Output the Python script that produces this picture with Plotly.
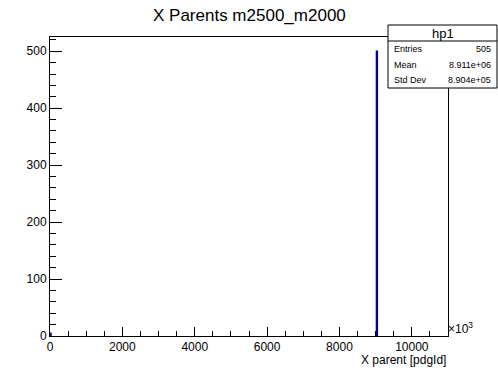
import plotly.graph_objects as go

# Data (x in units of 10^3 pdgId)
bin_lo = [0, 9020]
bin_hi = [30, 9050]
counts = [5, 500]
stats_labels = ["Entries", "Mean", "Std Dev"]
stats_values = ["505", "8.911e+06", "8.904e+05"]
hist_name = "hp1"
title = "X Parents m2500_m2000"
x_title = "X parent [pdgId]"

xs, ys = [], []
for lo, hi, c in zip(bin_lo, bin_hi, counts):
    xs += [lo, lo, hi, hi, None]
    ys += [0, c, c, 0, None]

FONT = "Liberation Sans, Arial, Helvetica, sans-serif"
L, R, T, B = 50, 50, 37, 38
W, H = 498, 374

fig = go.Figure()
fig.add_trace(go.Scatter(x=xs, y=ys, mode="lines",
                         line=dict(color="#000099", width=1.3),
                         hoverinfo="skip", showlegend=False))

fig.update_layout(
    width=W, height=H,
    margin=dict(l=L, r=R, t=T, b=B),
    paper_bgcolor="white", plot_bgcolor="white",
    font=dict(family=FONT, color="black", size=12),
    showlegend=False,
    xaxis=dict(range=[0, 11000], showgrid=False, zeroline=False,
               showline=True, linecolor="black", linewidth=1, mirror=True,
               ticks="inside", ticklen=9, tickcolor="black", dtick=2000, tick0=0,
               minor=dict(ticks="inside", ticklen=5, dtick=500, tickcolor="black"),
               tickfont=dict(size=12, family=FONT), tickformat="d"),
    yaxis=dict(range=[0, 525], showgrid=False, zeroline=False,
               showline=True, linecolor="black", linewidth=1, mirror=True,
               ticks="inside", ticklen=12, tickcolor="black", dtick=100, tick0=0,
               minor=dict(ticks="inside", ticklen=6, dtick=20, tickcolor="black"),
               tickfont=dict(size=12, family=FONT)),
)

# Title
fig.add_annotation(text=title, x=0.5, y=1, xref="paper", yref="paper",
                   xanchor="center", yanchor="bottom", yshift=10, showarrow=False,
                   font=dict(size=17, family=FONT))
# x axis title
fig.add_annotation(text=x_title, x=1, y=0, xref="paper", yref="paper",
                   xanchor="right", yanchor="top", yshift=-15, showarrow=False,
                   font=dict(size=12, family=FONT))
# x10^3
fig.add_annotation(text="×10<sup>3</sup>", x=1, y=0, xref="paper", yref="paper",
                   xanchor="left", yanchor="bottom", xshift=-2, yshift=-2, showarrow=False,
                   font=dict(size=12, family=FONT))

# Stats box in pixel -> paper coordinates
def px(x):
    return (x - L) / (W - L - R)
def py(y):
    return (H - B - y) / (H - T - B)

bx0, bx1, by0, by1, bdiv = 388, 497, 25, 88, 41
fig.add_shape(type="rect", xref="paper", yref="paper",
              x0=px(bx0), x1=px(bx1), y0=py(by1), y1=py(by0),
              line=dict(color="black", width=1), fillcolor="white", layer="above")
fig.add_shape(type="line", xref="paper", yref="paper",
              x0=px(bx0), x1=px(bx1), y0=py(bdiv), y1=py(bdiv),
              line=dict(color="black", width=1), layer="above")
fig.add_annotation(text=hist_name, x=px((bx0 + bx1) / 2), y=py((by0 + bdiv) / 2),
                   xref="paper", yref="paper", xanchor="center", yanchor="middle",
                   showarrow=False, font=dict(size=13, family=FONT))
row_h = (by1 - bdiv) / 3
for i, (lab, val) in enumerate(zip(stats_labels, stats_values)):
    yc = bdiv + row_h * (i + 0.5)
    fig.add_annotation(text=lab, x=px(bx0 + 4), y=py(yc), xref="paper", yref="paper",
                       xanchor="left", yanchor="middle", showarrow=False,
                       font=dict(size=9, family=FONT))
    fig.add_annotation(text=val, x=px(bx1 - 4), y=py(yc), xref="paper", yref="paper",
                       xanchor="right", yanchor="middle", showarrow=False,
                       font=dict(size=9, family=FONT))

fig.write_html("out.html")
